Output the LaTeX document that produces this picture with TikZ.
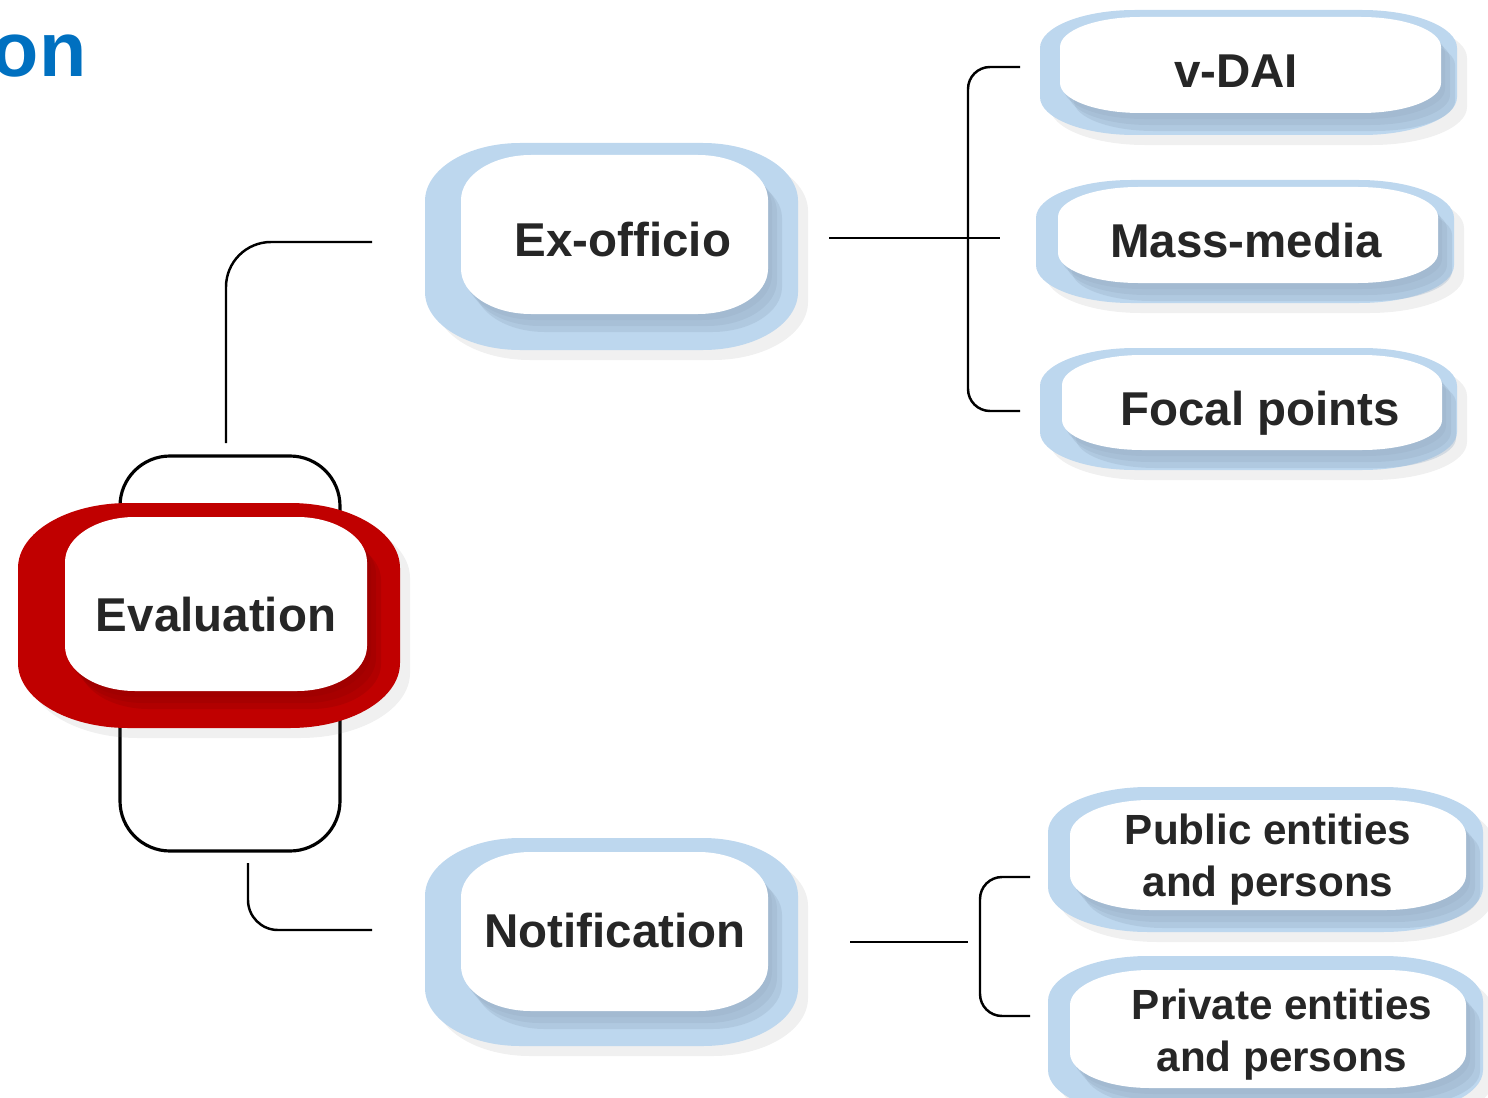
\documentclass[tikz,border=0pt]{standalone}
\usepackage{fontspec}
\setmainfont{Liberation Sans}
\usetikzlibrary{shadows}
\definecolor{paleblue}{HTML}{BDD7EE}
\definecolor{blueshade}{HTML}{9AB1C8}
\definecolor{evalred}{HTML}{C00000}
\definecolor{redshade}{HTML}{960000}
\definecolor{labelgrey}{HTML}{262626}
\definecolor{titleblue}{HTML}{0070C0}
\tikzset{
  boxlabel/.style={font=\bfseries\fontsize{13.5}{16}\selectfont, text=labelgrey, inner sep=0pt},
  pairlabel/.style={font=\bfseries\fontsize{12}{14.8}\selectfont, text=labelgrey, inner sep=0pt, align=center},
  conn/.style={line width=.7pt},
  softshadow/.style={drop shadow={opacity=.12, shadow xshift=.1cm, shadow yshift=-.1cm}}
}
% #2..#5: left, top, right, bottom (px, top down); #6,#7: corner radii
\newcommand{\pill}[7][]{%
  \fill[#1] (#2+#6,-#3) -- (#4-#6,-#3)
    arc[start angle=90, end angle=0, x radius=#6*0.01cm, y radius=#7*0.01cm]
    -- (#4,-#5+#7)
    arc[start angle=0, end angle=-90, x radius=#6*0.01cm, y radius=#7*0.01cm]
    -- (#2+#6,-#5)
    arc[start angle=270, end angle=180, x radius=#6*0.01cm, y radius=#7*0.01cm]
    -- (#2,-#3-#7)
    arc[start angle=180, end angle=90, x radius=#6*0.01cm, y radius=#7*0.01cm]
    -- cycle;}
\newcommand{\blob}[4]{%
  \pill[#1,softshadow]#3
  \pill[#2,opacity=.35,xshift=.04cm,yshift=-.06cm]#4
  \pill[#2,opacity=.35,xshift=.09cm,yshift=-.12cm]#4
  \pill[#2,opacity=.35,xshift=.14cm,yshift=-.18cm]#4
  \pill[white]#4}
\begin{document}
\begin{tikzpicture}[x=0.01cm,y=0.01cm]
    \useasboundingbox (0,0) rectangle (1488,-1097);
    \clip (0,0) rectangle (1488,-1097);
    \node[anchor=base east, text=titleblue, font=\bfseries\fontsize{22}{26}\selectfont, inner sep=0pt] (title) at (87,-77) {on};

    \draw[line width=.9pt, rounded corners=.5cm] (120,-456) rectangle (340,-851);
    \blob{evalred}{redshade}{{18}{503}{400}{728}{110}{65}}{{65}{517}{367}{691}{70}{45}}
    \node[boxlabel, anchor=base] (evaluation) at (216,-631) {Evaluation};

    \blob{paleblue}{blueshade}{{425}{143}{798}{350}{95}{58}}{{461}{155}{768}{314}{70}{45}}
    \node[boxlabel, anchor=base] (exofficio) at (623,-257) {Ex-officio};
    \blob{paleblue}{blueshade}{{425}{838}{798}{1046}{95}{58}}{{461}{852}{768}{1011}{70}{45}}
    \node[boxlabel, anchor=base] (notification) at (615,-947) {Notification};

    \blob{paleblue}{blueshade}{{1040}{10}{1457}{135}{95}{38}}{{1060}{17}{1441}{113}{80}{30}}
    \node[boxlabel, anchor=base] (vdai) at (1236,-88) {v-DAI};
    \blob{paleblue}{blueshade}{{1036}{180}{1454}{303}{95}{38}}{{1058}{187}{1438}{283}{80}{30}}
    \node[boxlabel, anchor=base] (massmedia) at (1246,-258) {Mass-media};
    \blob{paleblue}{blueshade}{{1040}{348}{1457}{470}{95}{38}}{{1062}{355}{1442}{450}{80}{30}}
    \node[boxlabel, anchor=base] (focal) at (1260,-425) {Focal points};

    \blob{paleblue}{blueshade}{{1048}{787}{1483}{932}{100}{45}}{{1070}{800}{1466}{910}{80}{35}}
    \node[pairlabel] (public) at (1268,-860) {Public entities\\and persons};
    \blob{paleblue}{blueshade}{{1048}{956}{1483}{1115}{100}{45}}{{1070}{970}{1466}{1088}{80}{35}}
    \node[pairlabel] (private) at (1282,-1035) {Private entities\\and persons};

    \coordinate (evalup) at (226,-443);
    \coordinate (evaldown) at (248,-863);
    \coordinate (exin) at (372,-242);
    \coordinate (notin) at (372,-930);
    \coordinate (exout) at (829,-238);
    \coordinate (exfork) at (1000,-238);
    \coordinate (vdaiin) at (1020,-67);
    \coordinate (focalin) at (1020,-411);
    \coordinate (notout) at (850,-942);
    \coordinate (notfork) at (968,-942);
    \coordinate (publicin) at (1030,-877);
    \coordinate (privatein) at (1030,-1016);

    \draw[conn, rounded corners=.45cm] (evalup) |- (exin);
    \draw[conn, rounded corners=.3cm] (evaldown) |- (notin);
    \draw[conn] (exout) -- (exfork);
    \draw[conn, rounded corners=.22cm] (vdaiin) -- (968,-67) -- (968,-411) -- (focalin);
    \draw[conn] (notout) -- (notfork);
    \draw[conn, rounded corners=.22cm] (publicin) -- (980,-877) -- (980,-1016) -- (privatein);
\end{tikzpicture}
\end{document}
